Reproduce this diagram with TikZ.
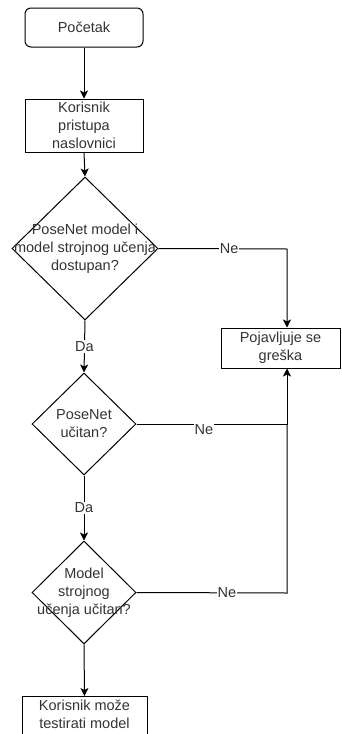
\documentclass[tikz,border=0pt]{standalone}
\usepackage{fontspec}
\setmainfont{Liberation Sans}
\usetikzlibrary{shapes.geometric,arrows.meta}
\begin{document}
\begin{tikzpicture}[x=1pt,y=-1pt,
  every node/.style={font=\fontsize{14.5}{18}\selectfont, text=black!80},
  box/.style={draw=black, line width=1pt, fill=white, inner sep=0pt, align=center},
  dia/.style={diamond, draw=black, line width=1pt, inner sep=0pt},
  txt/.style={align=center, inner sep=0pt},
  lbl/.style={fill=white, inner sep=1pt},
  arr/.style={draw=black, line width=1pt, -{Stealth[length=8pt,width=8pt,inset=2pt]}},
  ln/.style={draw=black, line width=1pt}]
\useasboundingbox (0,0) rectangle (342,734);
\clip (0,0) rectangle (342,734);
\node[box, rounded corners=6pt, minimum width=118pt, minimum height=39pt] (start) at (84,27.5) {Početak};
\node[box, minimum width=118pt, minimum height=53pt] (b2) at (84,125.5) {Korisnik\\pristupa\\naslovnici};
\node[dia, minimum width=146pt, minimum height=143pt] (d1) at (85,248.5) {};
\node[txt] (t1) at (85,249) {PoseNet model i\\model strojnog učenja\\dostupan?};
\node[dia, minimum width=104pt, minimum height=102pt] (d2) at (84,424) {};
\node[txt] (t2) at (84,424) {PoseNet\\učitan?};
\node[dia, minimum width=104pt, minimum height=103pt] (d3) at (84,592.5) {};
\node[txt] (t3) at (84,593) {Model\\strojnog\\učenja učitan?};
\node[box, minimum width=119pt, minimum height=40pt] (err) at (280.5,348) {Pojavljuje se\\greška};
\node[box, minimum width=125pt, minimum height=60pt, anchor=north] (end) at (84.5,696) {};
\node[txt, anchor=north] (tend) at (84.5,700) {Korisnik može\\testirati model};
\coordinate (c1) at (287,249);
\coordinate (c2) at (287,424);
\coordinate (c3) at (287,593);
\draw[arr] (start.south) -- (b2.north);
\draw[arr] (b2.south) -- (d1.north);
\draw[arr] (d1.south) -- node[lbl] (da1) {Da} (d2.north);
\draw[arr] (d2.south) -- node[lbl] (da2) {Da} (d3.north);
\draw[arr] (d3.south) -- (end.north);
\draw[arr] (d1.east) -- node[lbl, pos=0.55] (ne1) {Ne} (c1) -- (c1 |- err.north);
\draw[arr] (d2.east) -- (c2) -- (c2 |- err.south);
\node[lbl] (ne2) at (204,430) {Ne};
\draw[ln] (d3.east) -- node[lbl, pos=0.6] (ne3) {Ne} (c3) -- (c2);
\end{tikzpicture}
\end{document}
